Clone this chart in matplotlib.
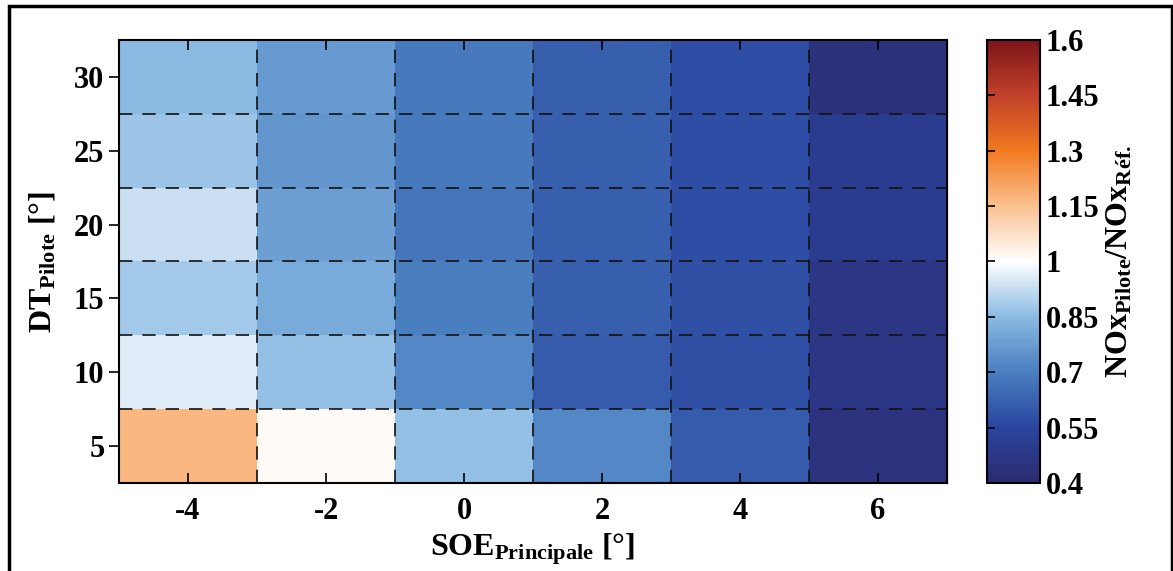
import matplotlib
matplotlib.use("Agg")
import matplotlib.pyplot as plt
import numpy as np
from matplotlib.colors import LinearSegmentedColormap
from matplotlib.patches import Rectangle

plt.rcParams["font.family"] = ["Liberation Serif", "DejaVu Serif"]
plt.rcParams["font.weight"] = "bold"
plt.rcParams["axes.labelweight"] = "bold"
plt.rcParams["mathtext.fontset"] = "custom"
plt.rcParams["mathtext.rm"] = "Liberation Serif:bold"
plt.rcParams["mathtext.it"] = "Liberation Serif:italic:bold"
plt.rcParams["mathtext.bf"] = "Liberation Serif:bold"

# SOE principale (columns) and DT pilote (rows)
soe = [-4, -2, 0, 2, 4, 6]
dt = [5, 10, 15, 20, 25, 30]

# NOx pilote / NOx ref, one row per DT value (bottom to top)
ratio = np.array([
    [1.17, 1.01, 0.86, 0.72, 0.61, 0.45],   # DT 5
    [0.96, 0.86, 0.72, 0.61, 0.58, 0.47],   # DT 10
    [0.88, 0.81, 0.70, 0.62, 0.58, 0.47],   # DT 15
    [0.93, 0.78, 0.68, 0.62, 0.57, 0.50],   # DT 20
    [0.87, 0.76, 0.69, 0.62, 0.57, 0.50],   # DT 25
    [0.85, 0.77, 0.69, 0.62, 0.57, 0.44],   # DT 30
])

cb_ticks = [0.4, 0.55, 0.7, 0.85, 1, 1.15, 1.3, 1.45, 1.6]
cb_labels = ["0.4", "0.55", "0.7", "0.85", "1", "1.15", "1.3", "1.45", "1.6"]

cmap = LinearSegmentedColormap.from_list("nox", [
    (0.000, "#2b2b6e"),
    (0.125, "#2a45a0"),
    (0.250, "#4a7fc0"),
    (0.375, "#8bbbe3"),
    (0.500, "#ffffff"),
    (0.625, "#fbc190"),
    (0.750, "#f27a20"),
    (0.875, "#c2412a"),
    (1.000, "#7d1518"),
])

fig = plt.figure(figsize=(11.73, 5.71), dpi=100)
ax = fig.add_axes([0.1015, 0.1541, 0.7058, 0.7759])
cax = fig.add_axes([0.8414, 0.1541, 0.0452, 0.7759])

x_edges = np.arange(len(soe) + 1) * 2 - 5
y_edges = np.arange(len(dt) + 1) * 5 + 2.5
mesh = ax.pcolormesh(x_edges, y_edges, ratio, cmap=cmap, vmin=0.4, vmax=1.6)

# dashed cell borders
for xe in x_edges[1:-1]:
    ax.axvline(xe, color="#111111", lw=1.2, ls=(0, (8, 6)))
for ye in y_edges[1:-1]:
    ax.axhline(ye, color="#111111", lw=1.2, ls=(0, (8, 6)))

ax.set_xlim(-5, 7)
ax.set_ylim(2.5, 32.5)
ax.set_xticks(soe)
ax.set_xticklabels([str(v) for v in soe])
ax.set_yticks(dt)
ax.tick_params(axis="x", direction="in", top=True, length=7, width=1.2,
               labelsize=22, pad=10)
ax.tick_params(axis="y", direction="out", length=7, width=1.2, labelsize=22)
sec = ax.secondary_yaxis("right")
sec.set_yticks(dt)
sec.tick_params(direction="in", length=7, width=1.2, labelright=False)
for s in ax.spines.values():
    s.set_linewidth(1.5)

ax.set_xlabel(r"SOE$_{\mathrm{Principale}}$ [°]", fontsize=23, labelpad=4)
ax.set_ylabel(r"DT$_{\mathrm{Pilote}}$ [°]", fontsize=23, labelpad=12)

cb = fig.colorbar(mesh, cax=cax)
cb.set_ticks(cb_ticks)
cb.set_ticklabels(cb_labels)
cax.yaxis.set_ticks_position("left")
cax.yaxis.set_label_position("right")
cax.tick_params(direction="in", length=6, width=1.2, labelsize=22,
                labelleft=False, labelright=True, pad=4)
cb.outline.set_linewidth(1.5)
cb.set_label(r"NOx$_{\mathrm{Pilote}}$/NOx$_{\mathrm{Réf.}}$", fontsize=23,
             labelpad=4)

# frame round the figure
fig.patches.append(Rectangle((9 / 1173, -0.02), 1163 / 1173, 1 - 6 / 571 + 0.02,
                             transform=fig.transFigure, fill=False,
                             edgecolor="black", lw=2.5))

fig.savefig("out.png", dpi=100)
